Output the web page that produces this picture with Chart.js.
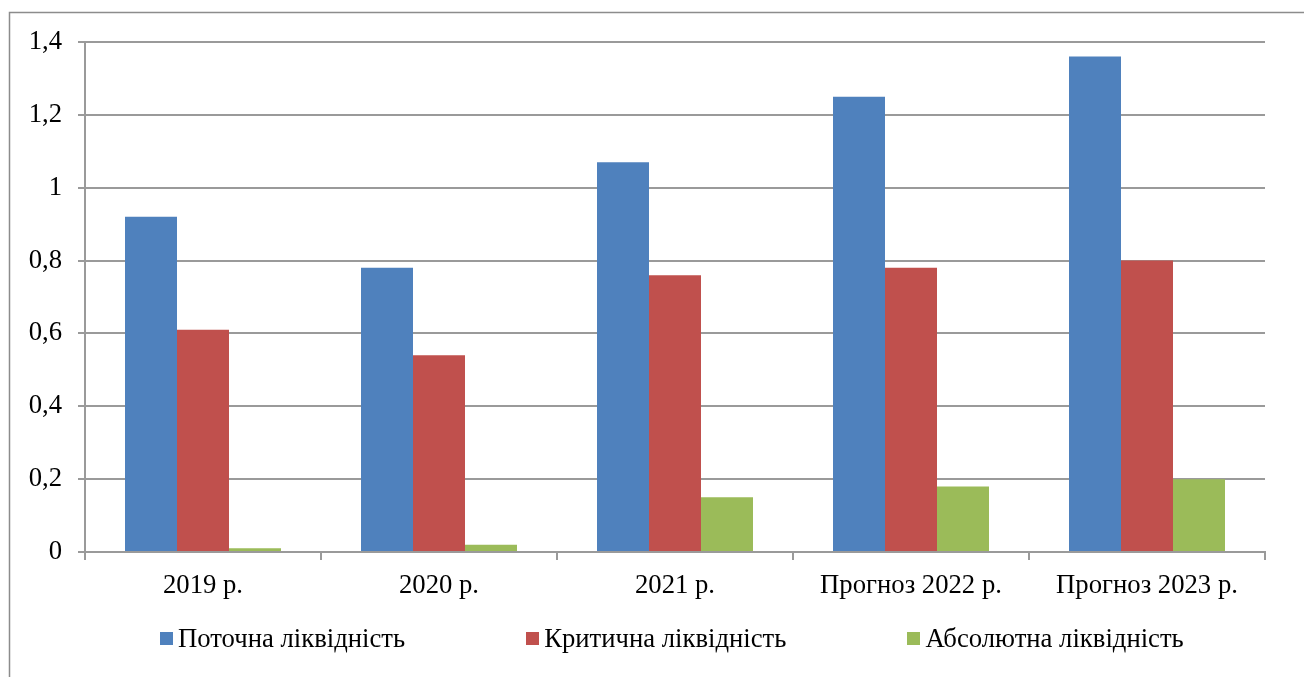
<!DOCTYPE html>
<html lang="uk">
<head>
<meta charset="utf-8">
<title>Показники ліквідності</title>
<script src="https://cdn.jsdelivr.net/npm/chart.js@4.4.1/dist/chart.umd.min.js"></script>
<style>
  html, body { margin: 0; padding: 0; background: #fff; }
  #wrap { position: relative; width: 1304px; height: 677px; overflow: hidden; }
  #legend {
    position: absolute; left: 160px; top: 623px;
    display: flex; gap: 121px; align-items: center;
    font-family: "Liberation Serif", "Times New Roman", serif;
    font-size: 26.7px; color: #000; white-space: nowrap;
  }
  #legend .item { display: flex; align-items: center; }
  #legend .box { width: 13px; height: 13px; margin-right: 5px; }
</style>
</head>
<body>
<div id="wrap">
  <canvas id="chart" width="1304" height="677"></canvas>
  <div id="legend"></div>
</div>
<script>
  const CATEGORIES = ["2019 р.", "2020 р.", "2021 р.", "Прогноз 2022 р.", "Прогноз 2023 р."];
  const SERIES_NAMES = ["Поточна ліквідність", "Критична ліквідність", "Абсолютна ліквідність"];
  const CURRENT = [0.92, 0.78, 1.07, 1.25, 1.36];
  const CRITICAL = [0.61, 0.54, 0.76, 0.78, 0.80];
  const ABSOLUTE = [0.01, 0.02, 0.15, 0.18, 0.20];
  const COLORS = ["#4f81bd", "#c0504d", "#9bbb59"];

  const FONT = "'Liberation Serif', 'Times New Roman', serif";
  const GRID_COLOR = "#9a9a9a";

  // outer frame of the chart object, cut off at right and bottom
  const frame = {
    id: "frame",
    beforeDraw: function (chart) {
      const ctx = chart.ctx;
      ctx.save();
      ctx.strokeStyle = "#8c8c8c";
      ctx.lineWidth = 1.5;
      ctx.strokeRect(9.5, 12.5, 1400, 800);
      ctx.restore();
    },
  };

  const datasets = [CURRENT, CRITICAL, ABSOLUTE].map(function (values, i) {
    return {
      label: SERIES_NAMES[i],
      data: values,
      backgroundColor: COLORS[i],
      borderWidth: 0,
      categoryPercentage: 0.661,
      barPercentage: 1.0,
    };
  });

  new Chart(document.getElementById("chart"), {
    type: "bar",
    data: { labels: CATEGORIES, datasets: datasets },
    plugins: [frame],
    options: {
      responsive: false,
      devicePixelRatio: 1,
      animation: false,
      layout: { padding: { left: 0, right: 39, top: 42, bottom: 75 } },
      plugins: { legend: { display: false }, tooltip: { enabled: false } },
      scales: {
        x: {
          grid: {
            display: true,
            drawOnChartArea: false,
            drawTicks: true,
            tickLength: 8,
            color: GRID_COLOR,
            lineWidth: 2,
          },
          border: { color: GRID_COLOR, width: 2 },
          ticks: {
            color: "#000",
            font: { family: FONT, size: 26.7 },
            padding: 10,
            maxRotation: 0,
          },
          afterFit: function (scale) { scale.height = 50; },
        },
        y: {
          min: 0,
          max: 1.4,
          ticks: {
            stepSize: 0.2,
            color: "#000",
            font: { family: FONT, size: 26.7 },
            padding: 16,
            callback: function (v) {
              return String(Math.round(v * 10) / 10).replace(".", ",");
            },
          },
          grid: { color: GRID_COLOR, lineWidth: 2, tickLength: 7 },
          border: { color: GRID_COLOR, width: 2 },
          afterFit: function (scale) { scale.width = 85; },
        },
      },
    },
  });

  const legend = document.getElementById("legend");
  SERIES_NAMES.forEach(function (name, i) {
    const item = document.createElement("div");
    item.className = "item";
    const box = document.createElement("span");
    box.className = "box";
    box.style.background = COLORS[i];
    const text = document.createElement("span");
    text.textContent = name;
    item.appendChild(box);
    item.appendChild(text);
    legend.appendChild(item);
  });
</script>
</body>
</html>
